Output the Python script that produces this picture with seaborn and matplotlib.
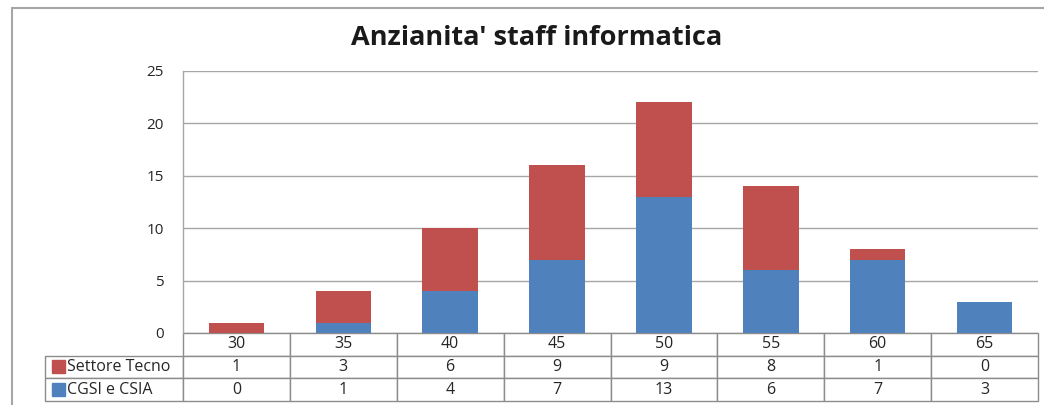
"""
Stacked bar chart with data table: Anzianita' staff informatica.
"""

import matplotlib

matplotlib.use("Agg")
import matplotlib.pyplot as plt
import seaborn as sns
from matplotlib.lines import Line2D
from matplotlib.patches import Rectangle
from matplotlib.table import Table

# Data
ages = ["30", "35", "40", "45", "50", "55", "60", "65"]
settore_tecno = [1, 3, 6, 9, 9, 8, 1, 0]
cgsi_csia = [0, 1, 4, 7, 13, 6, 7, 3]
series_names = ["Settore Tecno", "CGSI e CSIA"]
y_ticks = [0, 5, 10, 15, 20, 25]

RED = "#C0504D"
BLUE = "#4F81BD"
GRID = "#A6A6A6"
TEXT = "#262626"
W, H = 1044, 405


def main():
    sns.set_theme(style="white")
    plt.rcParams["font.family"] = ["Open Sans", "DejaVu Sans"]

    fig = plt.figure(figsize=(W / 100, H / 100), dpi=100)
    ax = fig.add_axes([183 / W, 1 - 333 / H, 855 / W, 262 / H])

    # Stacked bars: blue at the bottom, red on top
    sns.barplot(x=ages, y=cgsi_csia, color=BLUE, saturation=1, width=0.52,
                linewidth=0, ax=ax)
    sns.barplot(x=ages, y=settore_tecno, bottom=cgsi_csia, color=RED,
                saturation=1, width=0.52, linewidth=0, ax=ax)

    ax.set_ylim(0, 25)
    ax.set_yticks(y_ticks)
    ax.set_yticklabels([str(t) for t in y_ticks], fontsize=11, color=TEXT)
    ax.set_xticklabels([])
    ax.set_xlabel("")
    ax.set_ylabel("")
    ax.tick_params(axis="both", length=0)
    ax.tick_params(axis="y", pad=14)
    ax.yaxis.grid(True, color=GRID, linewidth=1)
    ax.set_axisbelow(True)
    for side in ["top", "right", "bottom"]:
        ax.spines[side].set_visible(False)
    ax.spines["left"].set_color(GRID)
    ax.spines["left"].set_linewidth(1)

    # Data table below the plot (no corner cell, like the Excel data table)
    label_w = 138 / 855
    col_w = 1 / len(ages)
    row_h = 1 / 3
    tbl = Table(ax, bbox=[-label_w, -68 / 262, 1 + label_w, 68 / 262])
    for j, age in enumerate(ages):
        tbl.add_cell(0, j + 1, width=col_w, height=row_h, text=age, loc="center")
    for i, (name, vals) in enumerate(zip(series_names, [settore_tecno, cgsi_csia])):
        lab = tbl.add_cell(i + 1, 0, width=label_w, height=row_h, text=name, loc="left")
        lab.PAD = 22 / 138
        for j, v in enumerate(vals):
            tbl.add_cell(i + 1, j + 1, width=col_w, height=row_h, text=str(v), loc="center")
    tbl.auto_set_font_size(False)
    tbl.set_fontsize(11.5)
    for cell in tbl.get_celld().values():
        cell.set_edgecolor("#8C8C8C")
        cell.set_linewidth(1)
        cell.get_text().set_color(TEXT)
    ax.add_table(tbl)

    # Legend keys inside the row label cells
    for i, col in enumerate([RED, BLUE]):
        yc = 366.5 + i * 22.7
        fig.add_artist(Rectangle((52 / W, 1 - (yc + 6.5) / H), 13 / W, 13 / H,
                                 transform=fig.transFigure, color=col))

    fig.text(537 / W, 1 - 38 / H, "Anzianita' staff informatica",
             ha="center", va="center", fontsize=19.5, fontweight="bold",
             color="#1a1a1a")

    # Outer chart frame
    fig.add_artist(Line2D([12 / W, 12 / W], [0, 1 - 8 / H],
                          transform=fig.transFigure, color=GRID, linewidth=1.5))
    fig.add_artist(Line2D([12 / W, 1], [1 - 8 / H, 1 - 8 / H],
                          transform=fig.transFigure, color=GRID, linewidth=1.5))

    fig.savefig("out.png", dpi=100)
    plt.close(fig)


if __name__ == "__main__":
    main()
